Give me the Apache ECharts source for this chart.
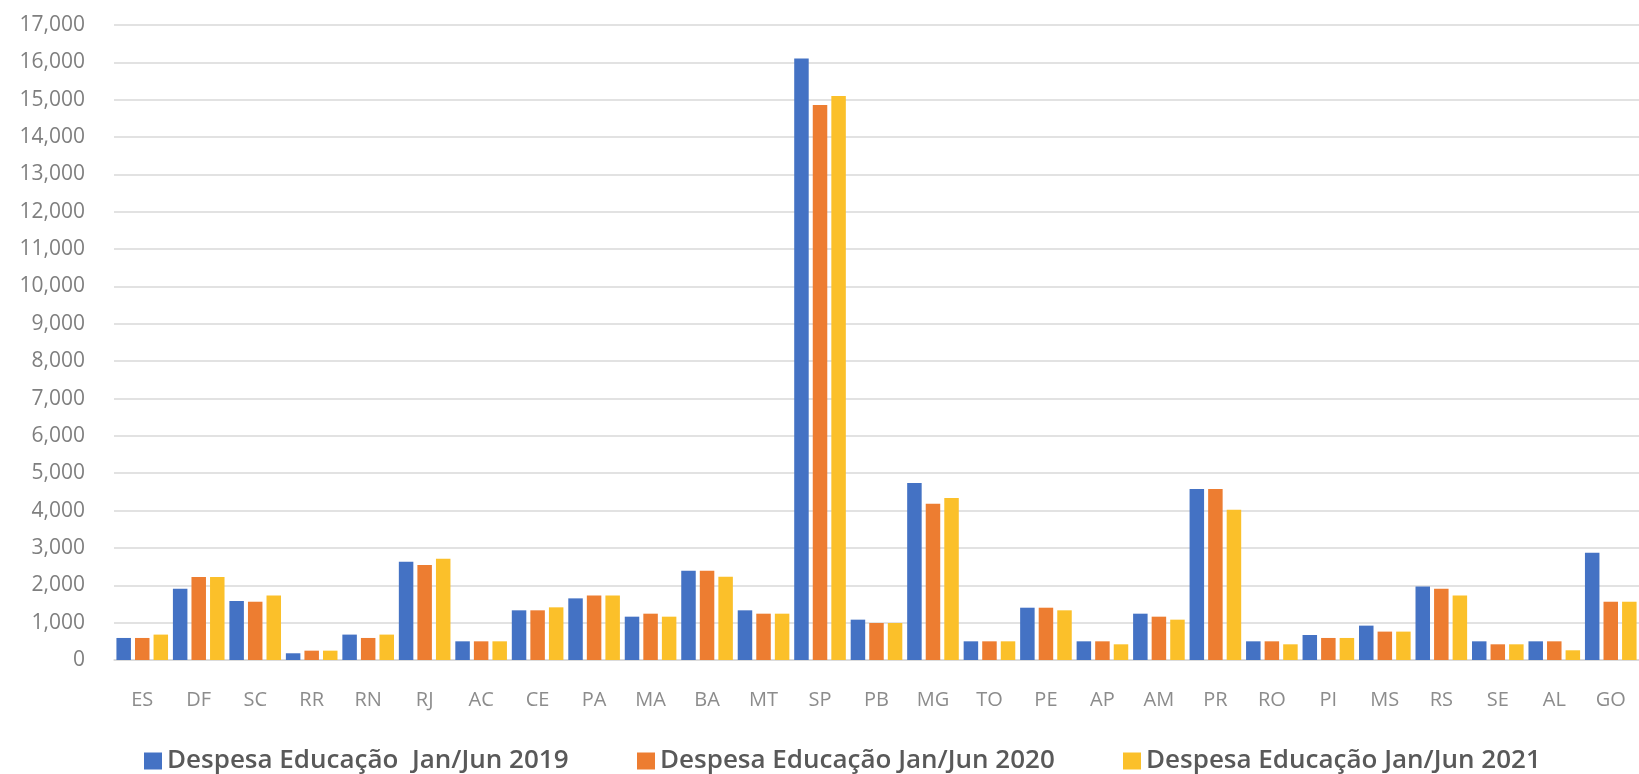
<!DOCTYPE html>
<html>
<head>
<meta charset="utf-8">
<title>Despesa Educação por UF</title>
<script src="https://cdn.jsdelivr.net/npm/echarts@6/dist/echarts.min.js"></script>
<style>
  html, body { margin: 0; padding: 0; background: #ffffff; }
  #chart { width: 1639px; height: 774px; }
</style>
</head>
<body>
<div id="chart"></div>
<script>
// States (UF) in display order
const states = ['ES','DF','SC','RR','RN','RJ','AC','CE','PA','MA','BA','MT','SP','PB','MG','TO','PE','AP','AM','PR','RO','PI','MS','RS','SE','AL','GO'];

// Education spending, Jan–Jun of each year
const spend2019 = [590,1910,1580,180,680,2630,500,1330,1650,1160,2390,1330,16100,1080,4740,500,1400,500,1240,4580,500,670,920,1970,500,500,2870];
const spend2020 = [590,2220,1560,250,590,2540,500,1330,1730,1240,2390,1240,14860,990,4180,500,1400,500,1160,4580,500,590,760,1910,420,500,1560];
const spend2021 = [680,2220,1730,250,680,2710,500,1410,1730,1160,2230,1240,15100,990,4340,500,1330,420,1080,4020,420,590,760,1730,420,260,1560];

const seriesNames = [
  'Despesa Educação  Jan/Jun 2019',
  'Despesa Educação Jan/Jun 2020',
  'Despesa Educação Jan/Jun 2021'
];
const colors = ['#4472C4', '#ED7D31', '#FBC02A'];

const chart = echarts.init(document.getElementById('chart'), null, { renderer: 'canvas' });

const legendText = {
  fontFamily: 'Open Sans',
  fontSize: 26,
  fontWeight: 600,
  color: '#595959'
};
const legendLefts = [144, 637, 1123];

chart.setOption({
  animation: false,
  backgroundColor: '#ffffff',
  color: colors,
  grid: { left: 114, right: -12, top: 25, bottom: 114, containLabel: false },
  legend: seriesNames.map((n, i) => ({
    data: [n],
    left: legendLefts[i],
    top: 748,
    padding: [0, 0, 0, 0],
    itemWidth: 18,
    itemHeight: 17,
    itemGap: 8,
    icon: 'rect',
    textStyle: legendText
  })),
  xAxis: {
    type: 'category',
    data: states,
    axisTick: { show: false },
    axisLine: { show: true, lineStyle: { color: '#d9d9d9', width: 1.5 } },
    axisLabel: {
      interval: 0,
      margin: 30,
      fontFamily: 'Open Sans',
      fontSize: 20,
      color: '#8c8c8c'
    }
  },
  yAxis: {
    type: 'value',
    min: 0,
    max: 17000,
    interval: 1000,
    axisLine: { show: false },
    axisTick: { show: false },
    splitLine: { lineStyle: { color: '#d9d9d9', width: 1.5 } },
    axisLabel: {
      margin: 29,
      fontFamily: 'Open Sans',
      fontSize: 21,
      color: '#7f7f7f',
      formatter: v => v.toLocaleString('en-US')
    }
  },
  series: [spend2019, spend2020, spend2021].map((d, i) => ({
    name: seriesNames[i],
    type: 'bar',
    data: d,
    barWidth: 14.5,
    barGap: '28%',
    itemStyle: { color: colors[i] }
  }))
});
</script>
</body>
</html>
